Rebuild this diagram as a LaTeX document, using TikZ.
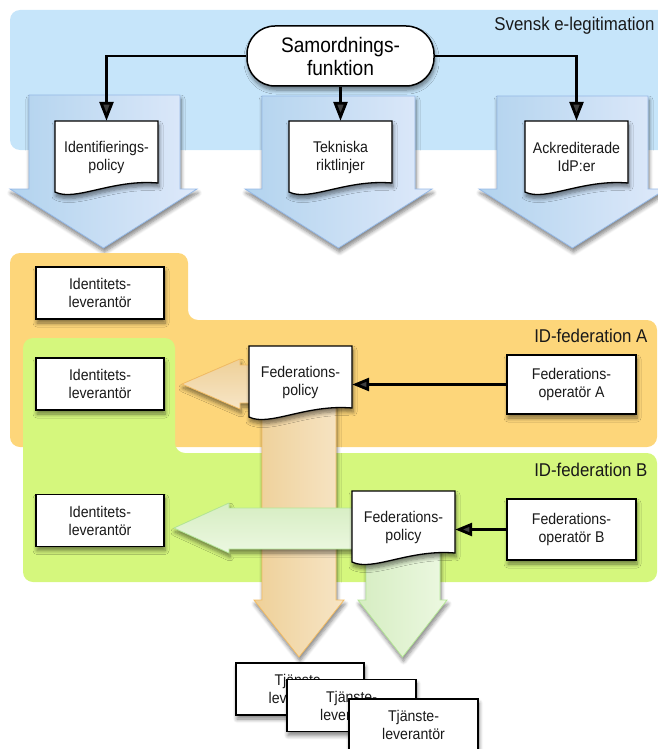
\documentclass[tikz,border=0pt]{standalone}
\usepackage{fontspec}
\setmainfont{Liberation Sans}[FakeStretch=0.91]
\usetikzlibrary{arrows.meta,shadows,calc}
\IfFileExists{tikzlibraryshadows.blur.code.tex}{\usetikzlibrary{shadows.blur}\def\hasblur{1}}{\def\hasblur{0}}
\definecolor{blueR}{RGB}{198,229,250}
\definecolor{orangeR}{RGB}{253,214,122}
\definecolor{greenR}{RGB}{213,247,125}
\definecolor{blueL}{RGB}{178,211,238}
\definecolor{blueRt}{RGB}{222,233,250}
\definecolor{blueB}{RGB}{150,185,230}
\definecolor{orL}{RGB}{238,208,152}
\definecolor{orRt}{RGB}{247,229,198}
\definecolor{orB}{RGB}{242,188,100}
\definecolor{grL}{RGB}{214,237,194}
\definecolor{grRt}{RGB}{236,248,225}
\definecolor{grB}{RGB}{180,230,150}
\ifnum\hasblur=1
\tikzset{sh/.style={blur shadow={shadow xshift=1pt,shadow yshift=-4pt,shadow blur steps=6,shadow blur radius=4pt,shadow opacity=50}}}
\else
\tikzset{sh/.style={drop shadow={shadow xshift=1pt,shadow yshift=-3pt,opacity=0.3}}}
\fi
\tikzset{
  boxtxt/.style={font=\fontsize{15.5}{18}\selectfont, align=center, text=black!90},
  box/.style={boxtxt, draw=black, line width=1.3pt, fill=white, minimum width=128pt, minimum height=52pt, inner sep=0pt, sh},
  docshape/.style={draw=black, line width=1.3pt, fill=white, sh},
  doctext/.style={boxtxt, minimum width=103pt, minimum height=72pt, inner sep=0pt},
  lbl/.style={anchor=east, font=\fontsize{18.5}{21}\selectfont, text=black!90},
  conn/.style={line width=2.8pt, -{Triangle[length=19pt,width=14pt]}},
  connb/.style={line width=2.8pt, -{Triangle[length=17pt,width=13pt]}},
  barrow/.style={left color=blueL, right color=blueRt, draw=blueB, line width=0.8pt, sh},
  oarrowv/.style={left color=orL, right color=orRt, draw=orB, line width=0.8pt, sh},
  oarrowh/.style={top color=orL, bottom color=orRt, draw=orB, line width=0.8pt, sh},
  garrowv/.style={left color=grL, right color=grRt, draw=grB, line width=0.8pt, sh},
  garrowh/.style={top color=grL, bottom color=grRt, draw=grB, line width=0.8pt, sh},
}
\newcommand\docnode[4]{%
  \path[docshape] (#2,#3) -- ({#2+103},#3) -- ({#2+103},{#3+62}) .. controls ({#2+57},{#3+58}) and ({#2+20},{#3+81}) .. (#2,{#3+71}) -- cycle;
  \node[doctext] (#1) at ({#2+51.5},{#3+36}) {#4};
}
\begin{document}
\begin{tikzpicture}[x=1pt,y=-1pt]
\useasboundingbox (0,0) rectangle (658,749);
% top region
\path[fill=blueR, rounded corners=10pt] (10,10) rectangle (690,150);
\node[lbl] (lblSE) at (658,26) {Svensk e-legitimation};
% blue arrows
\path[barrow] (29,95) -- (180,95) -- (180,189) -- (197,189) -- (103.5,248) -- (10,189) -- (29,189) -- cycle;
\path[barrow] (262,96) -- (415,96) -- (415,189) -- (432,189) -- (338.5,248) -- (245,189) -- (262,189) -- cycle;
\path[barrow] (497,96) -- (648,96) -- (648,189) -- (666,189) -- (572.5,248) -- (479,189) -- (497,189) -- cycle;
% top documents
\docnode{d1}{55}{121}{Identifierings-\\policy}
\docnode{d2}{289}{121}{Tekniska\\riktlinjer}
\docnode{d3}{525}{121}{Ackrediterade\\IdP:er}
\node[draw=black, line width=1.5pt, fill=white, rounded corners=28pt, minimum width=187pt, minimum height=60pt, inner sep=0pt, align=center, font=\fontsize{21}{23}\selectfont, sh] (samord) at (340.5,56) {Samordnings-\\funktion};
\draw[conn] (samord.west) -| (d1.north);
\draw[conn] (samord.south -| d2.north) -- (d2.north);
\draw[conn] (samord.east) -| (d3.north);
% federation regions
\path[fill=orangeR, rounded corners=10pt] (10,253) -- (188,253) -- (188,320) -- (657,320) -- (657,447) -- (10,447) -- cycle;
\path[fill=greenR, rounded corners=10pt] (23,338) -- (175,338) -- (175,453) -- (657,453) -- (657,582) -- (23,582) -- cycle;
\node[lbl] (lblA) at (651,336) {ID-federation A};
\node[lbl] (lblB) at (651,470) {ID-federation B};
% orange arrows
\path[oarrowv] (262,400) -- (336,400) -- (336,600) -- (344,600) -- (299,657) -- (254,600) -- (262,600) -- cycle;
\path[oarrowh] (300,365) -- (240,365) -- (240,359) -- (182,384) -- (240,409) -- (240,403) -- (300,403) -- cycle;
% green arrows
\path[garrowv] (366,540) -- (440,540) -- (440,600) -- (447,600) -- (402.5,657) -- (358,600) -- (366,600) -- cycle;
\path[garrowh] (380,508) -- (229,508) -- (229,503) -- (174,528) -- (229,553) -- (229,549) -- (380,549) -- cycle;
% boxes
\node[box] (idp1) at (100,293) {Identitets-\\leverantör};
\node[box] (idp2) at (100,384) {Identitets-\\leverantör};
\node[box] (idp3) at (100,520.5) {Identitets-\\leverantör};
\docnode{polA}{249}{346}{Federations-\\policy}
\docnode{polB}{352}{491}{Federations-\\policy}
\node[box, minimum width=129pt, minimum height=59pt] (opA) at (571.5,384.5) {Federations-\\operatör A};
\node[box, minimum width=129pt, minimum height=61pt] (opB) at (571.5,529.5) {Federations-\\operatör B};
\draw[connb] (opA.west) -- (opA.west -| polA.east);
\draw[connb] (opB.west) -- (opB.west -| polB.east);
% service providers
\node[box] (sp1) at (300,689) {Tjänste-\\leverantör};
\node[box, minimum width=129pt] (sp2) at (351.5,705.5) {Tjänste-\\leverantör};
\node[box, minimum width=129pt] (sp3) at (413.5,725) {Tjänste-\\leverantör};
\end{tikzpicture}
\end{document}
